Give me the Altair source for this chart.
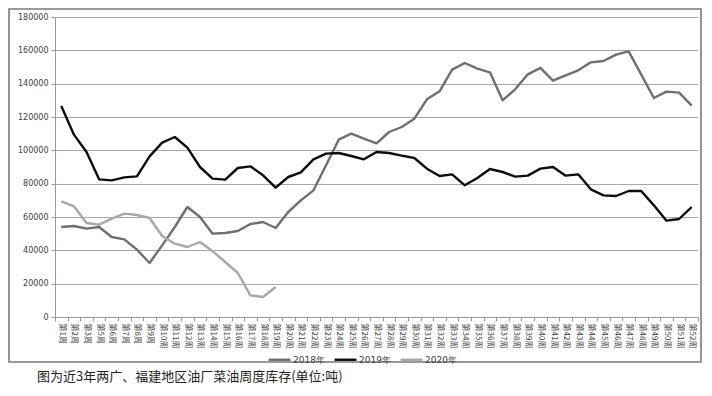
import altair as alt
import pandas as pd

weeks = [1, 2, 3] + list(range(5, 53))
week_labels = [f"第{w}周" for w in weeks]

y2018 = [54000, 54600, 53000, 54000, 48000, 46600, 40400, 32400, 43000, 54000,
         66000, 60000, 50000, 50400, 51600, 55800, 57000, 53400, 63000, 70000,
         76000, 91000, 106400, 110000, 107000, 104200, 111000, 114000, 119000, 130600,
         135400, 148400, 152400, 149000, 146800, 130000, 136600, 145600, 149500, 141800,
         145000, 148000, 152800, 153600, 157400, 159400, 145400, 131400, 135200, 134600,
         126800]
y2019 = [126600, 109400, 99000, 82600, 82000, 83800, 84400, 96400, 104600, 108000,
         101600, 90000, 83000, 82400, 89400, 90400, 85000, 77600, 84000, 86800,
         94600, 98000, 98400, 96600, 94600, 99000, 98400, 96800, 95400, 89000,
         84600, 85600, 79000, 83400, 88800, 87000, 84200, 84800, 89000, 90000,
         84800, 85600, 76600, 73000, 72600, 75600, 75600, 67000, 57800, 58800,
         66000]
y2020 = [69400, 66400, 56400, 55400, 59000, 62000, 61200, 59400, 48600, 44000,
         42000, 45000, 39500, 33000, 26400, 13000, 12000, 18000]

series_names = ["2018年", "2019年", "2020年"]
series_colors = ["#6f6f6f", "#0d0d0d", "#a8a8a8"]
y_ticks = list(range(0, 180001, 20000))
caption = "图为近3年两广、福建地区油厂菜油周度库存(单位:吨)"

rows = []
for name, vals in zip(series_names, [y2018, y2019, y2020]):
    for lab, v in zip(week_labels, vals):
        rows.append({"week": lab, "value": v, "series": name})
df = pd.DataFrame(rows)

lines = alt.Chart(df).mark_line(strokeWidth=2.4, strokeJoin="round").encode(
    x=alt.X("week:N", sort=week_labels, bandPosition=0.5,
            scale=alt.Scale(type="band", paddingInner=0, paddingOuter=0),
            axis=alt.Axis(title=None, labelAngle=90, labelFontSize=8,
                          labelFont="Noto Sans CJK SC", labelColor="#404040",
                          labelPadding=2, tickBand="extent", tickSize=4,
                          tickColor="#9a9a9a", domainColor="#9a9a9a",
                          labelOverlap=False, grid=False)),
    y=alt.Y("value:Q", scale=alt.Scale(domain=[0, 180000], nice=False),
            axis=alt.Axis(title=None, values=y_ticks, format="d", labelFontSize=8,
                          labelFont="DejaVu Sans", labelColor="#404040",
                          tickSize=4, tickColor="#9a9a9a", domainColor="#9a9a9a",
                          gridColor="#a8a8a8", gridWidth=1, labelPadding=3)),
    color=alt.Color("series:N", sort=series_names,
                    scale=alt.Scale(domain=series_names, range=series_colors),
                    legend=alt.Legend(title=None, orient="none", direction="horizontal",
                                      legendX=212, legendY=330, symbolType="stroke",
                                      symbolSize=480, symbolStrokeWidth=2.4,
                                      labelFontSize=9, labelFont="DejaVu Sans",
                                      labelColor="#404040", columnPadding=4,
                                      labelOffset=1)),
)

frame = alt.Chart(pd.DataFrame({"a": [0]})).mark_rect(
    fill=None, stroke="#7a7a7a", strokeWidth=1.6
).encode(x=alt.value(-46), x2=alt.value(646), y=alt.value(-8), y2=alt.value(345))

cap = alt.Chart(pd.DataFrame({"t": [caption]})).mark_text(
    align="left", baseline="middle", fontSize=13, font="Noto Sans CJK SC",
    color="#222222"
).encode(text="t:N", x=alt.value(-18), y=alt.value(360))

chart = alt.layer(frame, lines, cap).properties(
    width=643, height=300,
    autosize=alt.AutoSizeParams(type="none"),
    padding={"left": 47, "top": 9, "right": 6, "bottom": 69},
).configure_view(stroke=None)

chart.save("out.html", embed_options={"renderer": "svg", "actions": False})
